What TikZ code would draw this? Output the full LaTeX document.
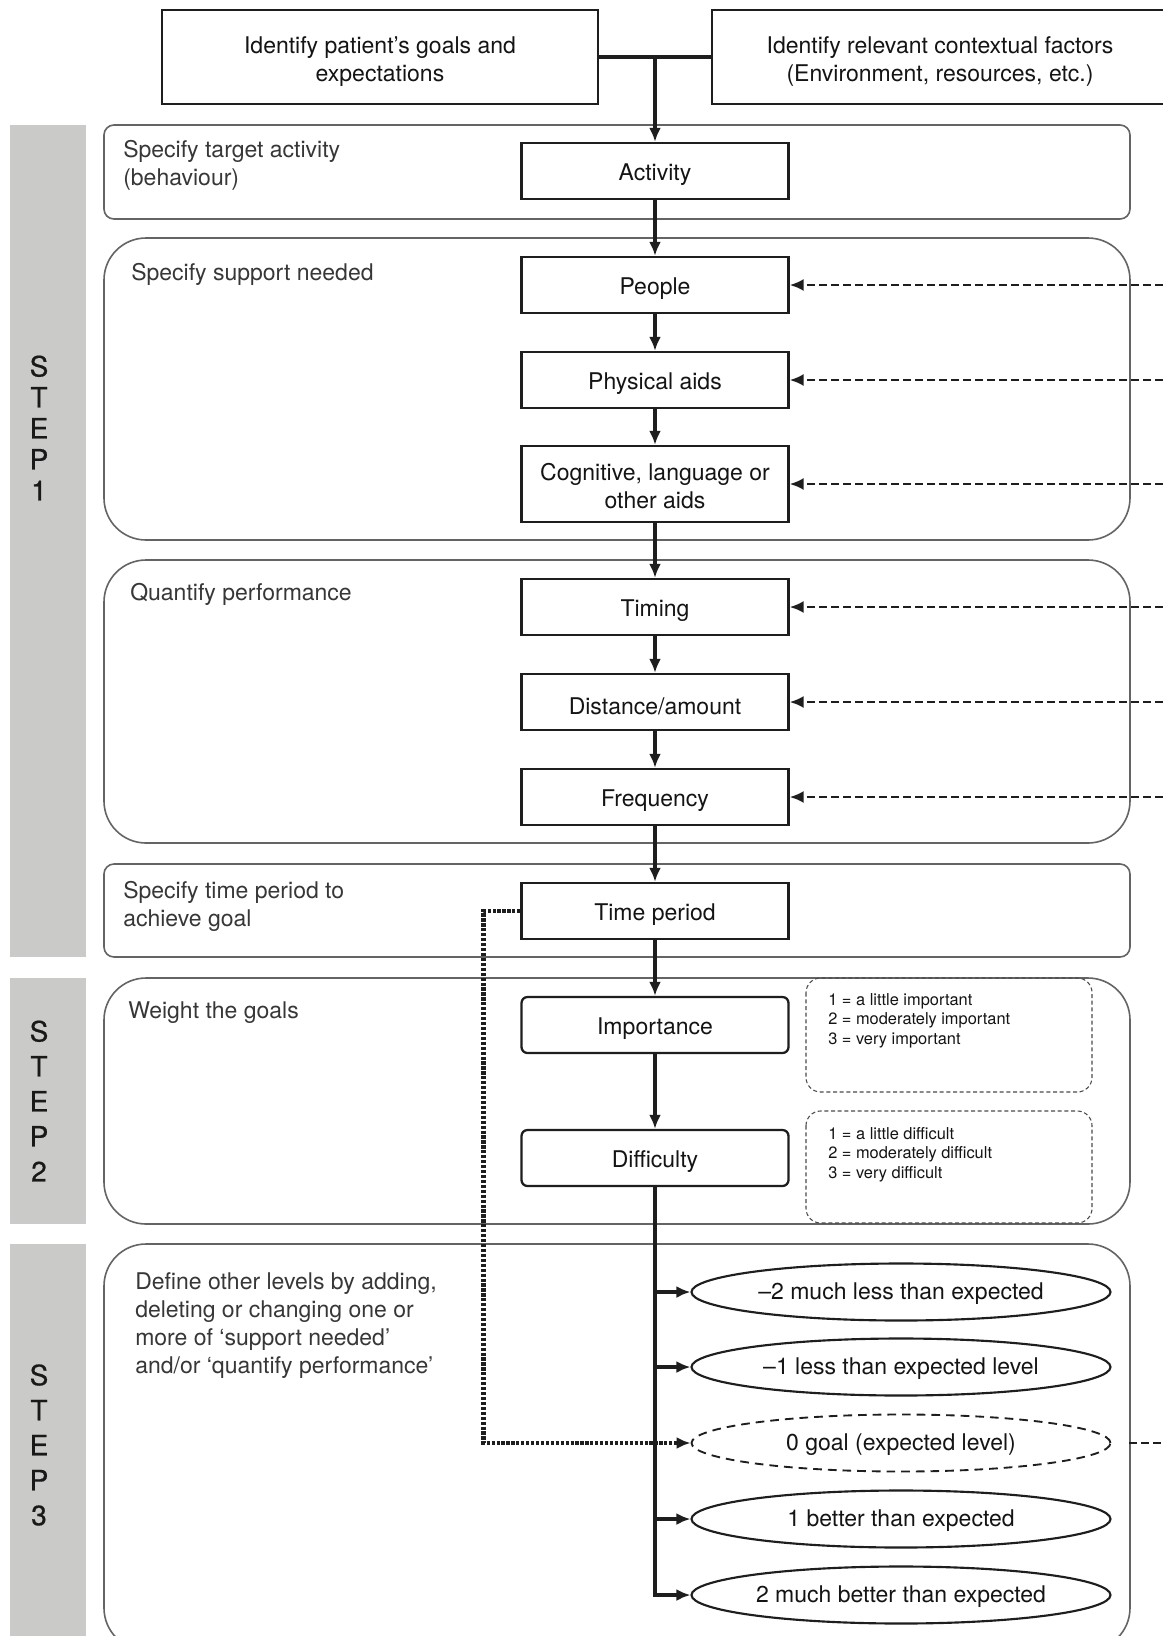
\documentclass[tikz,border=0pt]{standalone}
\usepackage{fontspec}
\setmainfont{TeX Gyre Heros}
\newfontfamily\stepfont[FakeBold=0.6]{TeX Gyre Heros}
\usetikzlibrary{shapes.geometric,arrows.meta}
\definecolor{barc}{RGB}{202,203,201}
\definecolor{panelc}{RGB}{100,100,100}
\definecolor{boxc}{RGB}{30,30,30}
\definecolor{txtc}{RGB}{20,20,20}
\definecolor{lblc}{RGB}{55,55,55}
\newcommand\mainfs{\fontsize{17.25}{21}\selectfont}
\newcommand\smallfs{\fontsize{12.3}{14.6}\selectfont}
\newcommand\stepfs{\stepfont\fontsize{21}{23.25}\selectfont}
\newcommand\stepfsb{\stepfont\fontsize{21}{26.25}\selectfont}
\begin{document}
\begin{tikzpicture}[x=0.75pt,y=-0.75pt,
  box/.style={draw=boxc, line width=1.7pt, fill=white, minimum width=200.25pt,
    minimum height=42pt, inner sep=2pt, align=center, font=\mainfs, text=txtc,
    execute at begin node={\rule{0pt}{18.5pt}}},
  mbox/.style={box, execute at begin node={}},
  rbox/.style={box, rounded corners=4.5pt},
  ell/.style={ellipse, draw=boxc, line width=1.6pt, fill=white, minimum width=314.25pt,
    minimum height=42.75pt, inner sep=0pt, font=\mainfs, text=txtc,
    execute at begin node={\rule{0pt}{15pt}}},
  panel/.style={draw=panelc, line width=1.2pt, fill=white},
  bar/.style={fill=barc},
  lbl/.style={anchor=north west, inner sep=0pt, align=left, font=\mainfs, text=lblc},
  steplbl/.style={inner sep=0pt, align=center, text=black!90},
  scalebox/.style={draw=boxc!80, line width=0.8pt, dash pattern=on 3pt off 2pt, rounded corners=11pt},
  scaletxt/.style={anchor=north west, inner sep=0pt, align=left, font=\smallfs, text=txtc},
  conn/.style={draw=boxc, line width=2.6pt},
  arr/.style={conn, -{Latex[length=10.5pt,width=9pt]}},
  dasharr/.style={draw=boxc, line width=1.9pt, dash pattern=on 6pt off 3pt, -{Latex[length=10.5pt,width=9pt]}},
  dashl/.style={draw=boxc, line width=1.9pt, dash pattern=on 6pt off 3pt},
  dotarr/.style={draw=boxc, line width=3.2pt, dash pattern=on 2.4pt off 1.3pt, -{Latex[length=10.5pt,width=9pt]}}
]
\useasboundingbox (0,0) rectangle (1163,1636);
\fill[white] (0,0) rectangle (1163,1636);
\clip (0,0) rectangle (1163,1636);

% step bars
\fill[bar] (10,125) rectangle (86,957);
\fill[bar] (10,978) rectangle (86,1224);
\fill[bar] (10,1244) rectangle (86,1660);
\node[steplbl, font=\stepfs] (s1) at (39,428) {S\\T\\E\\P\\1};
\node[steplbl, font=\stepfsb] (s2) at (39,1101) {S\\T\\E\\P\\2};
\node[steplbl, font=\stepfsb] (s3) at (39,1445) {S\\T\\E\\P\\3};

% panels
\draw[panel, rounded corners=7.5pt] (104,125) rectangle (1130,219);
\draw[panel, rounded corners=31.5pt] (104,238) rectangle (1130,540);
\draw[panel, rounded corners=31.5pt] (104,560) rectangle (1130,843);
\draw[panel, rounded corners=7.5pt] (104,864) rectangle (1130,957);
\draw[panel, rounded corners=31.5pt] (104,978) rectangle (1130,1224);
\draw[panel, rounded corners=31.5pt] (104,1244) rectangle (1130,1650);

% panel labels
\node[lbl] (l1) at (123,140) {Specify target activity\\(behaviour)};
\node[lbl] (l2) at (131,263) {Specify support needed};
\node[lbl] (l3) at (130,583) {Quantify performance};
\node[lbl] (l4) at (123,881) {Specify time period to\\achieve goal};
\node[lbl] (l5) at (128,1001) {Weight the goals};
\node[lbl] (l6) at (135,1272) {Define other levels by adding,\\deleting or changing one or\\more of `support needed'\\and/or `quantify performance'};

% scale boxes
\draw[scalebox] (806,978) rectangle (1092,1092);
\draw[scalebox] (806,1111) rectangle (1092,1223);
\node[scaletxt] (sc1) at (828,993) {1 = a little important\\2 = moderately important\\3 = very important};
\node[scaletxt] (sc2) at (828,1127) {1 = a little difficult\\2 = moderately difficult\\3 = very difficult};

% top boxes
\node[mbox, minimum width=327pt, minimum height=70.5pt] (goals) at (380,57) {\rule{0pt}{19pt}Identify patient's goals and\\expectations};
\node[mbox, minimum width=342pt, minimum height=70.5pt] (context) at (940,57) {\rule{0pt}{19pt}Identify relevant contextual factors\\(Environment, resources, etc.)};

% main column
\node[box] (act) at (655,171) {Activity};
\node[box] (people) at (655,285) {People};
\node[box] (phys) at (655,380) {Physical aids};
\node[mbox, minimum height=57pt] (cog) at (655,484) {\rule{0pt}{16pt}Cognitive, language or\\other aids};
\node[box] (timing) at (655,607) {Timing};
\node[box] (dist) at (655,702) {Distance/amount};
\node[box] (freq) at (655,797) {Frequency};
\node[box] (tp) at (655,911) {Time period};
\node[rbox] (imp) at (655,1025) {Importance};
\node[rbox] (diff) at (655,1158) {Difficulty};

% outcome ellipses
\node[ell] (em2) at (901,1292) {–2 much less than expected};
\node[ell] (em1) at (901,1367) {–1 less than expected level};
\node[ell, dash pattern=on 6.5pt off 4.5pt, line width=1.4pt] (e0) at (901,1443) {0 goal (expected level)};
\node[ell] (ep1) at (901,1519) {1 better than expected};
\node[ell] (ep2) at (901,1595) {2 much better than expected};

% top connection
\draw[conn] (goals.east) -- (context.west);
\coordinate (jn) at (act.north |- goals.east);
\draw[arr] (jn) -- (act.north);

% chain
\draw[arr] (act) -- (people);
\draw[arr] (people) -- (phys);
\draw[arr] (phys) -- (cog);
\draw[arr] (cog) -- (timing);
\draw[arr] (timing) -- (dist);
\draw[arr] (dist) -- (freq);
\draw[arr] (freq) -- (tp);
\draw[arr] (tp) -- (imp);
\draw[arr] (imp) -- (diff);

% trunk to outcomes
\draw[arr] (diff.south) |- (ep2.west);
\coordinate (tm2) at (diff.south |- em2.west);
\coordinate (tm1) at (diff.south |- em1.west);
\coordinate (tp1) at (diff.south |- ep1.west);
\draw[arr] (tm2) -- (em2.west);
\draw[arr] (tm1) -- (em1.west);
\draw[arr] (tp1) -- (ep1.west);

% dotted from time period to goal level
\draw[dotarr] (tp.west) -- ++(-37,0) |- (e0.west);

% dashed inputs from right
\coordinate (r1) at (1175,285);
\coordinate (r2) at (1175,380);
\coordinate (r3) at (1175,484);
\coordinate (r4) at (1175,607);
\coordinate (r5) at (1175,702);
\coordinate (r6) at (1175,797);
\draw[dasharr] (r1) -- (people.east);
\draw[dasharr] (r2) -- (phys.east);
\draw[dasharr] (r3) -- (cog.east);
\draw[dasharr] (r4) -- (timing.east);
\draw[dasharr] (r5) -- (dist.east);
\draw[dasharr] (r6) -- (freq.east);

% dashed out from goal level
\coordinate (g0a) at (1129,1443);
\coordinate (g0b) at (1175,1443);
\draw[dashl] (g0a) -- (g0b);
\end{tikzpicture}
\end{document}
